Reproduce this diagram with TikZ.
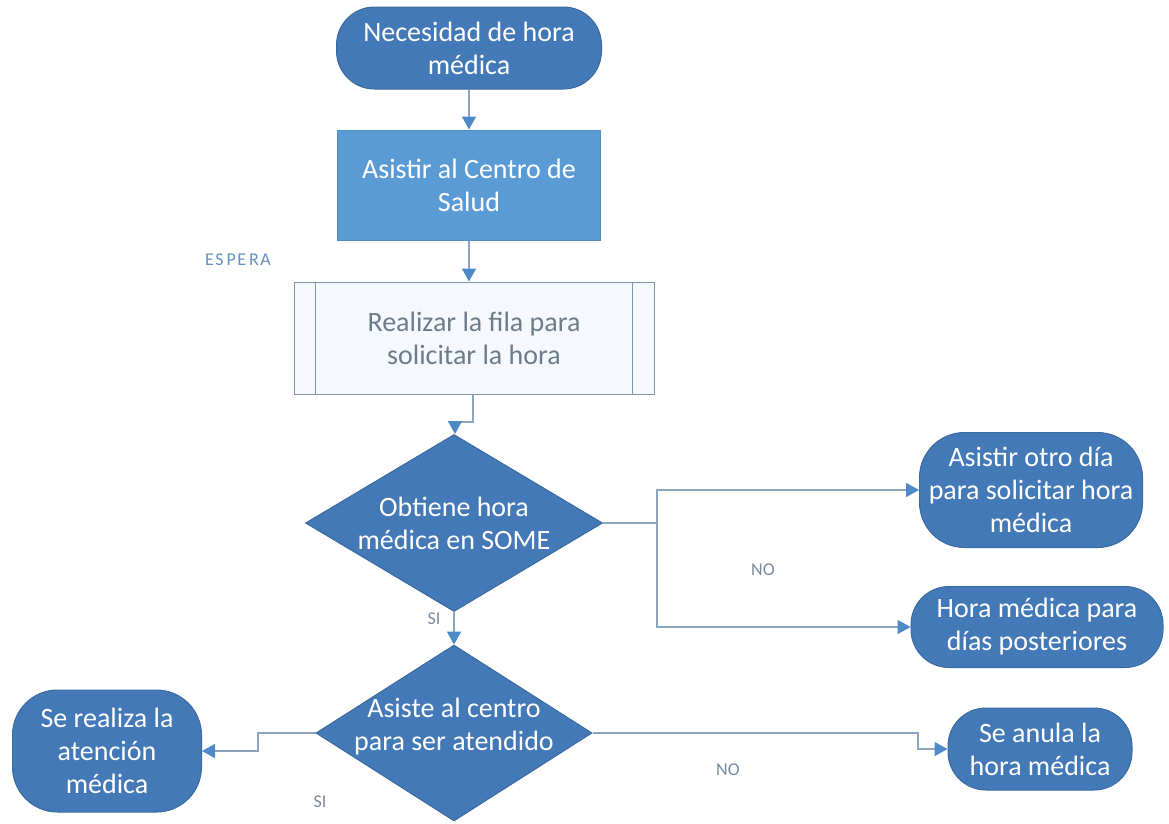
\documentclass[tikz,border=0pt]{standalone}
\usepackage{fontspec}
\setmainfont{Carlito}
\usetikzlibrary{shapes.geometric,arrows.meta}
\definecolor{termfill}{RGB}{68,121,184}
\definecolor{termdraw}{RGB}{58,106,160}
\definecolor{procfill}{RGB}{91,155,213}
\definecolor{procdraw}{RGB}{80,140,200}
\definecolor{predfill}{RGB}{245,249,253}
\definecolor{preddraw}{RGB}{128,150,170}
\definecolor{predtext}{RGB}{110,124,138}
\definecolor{linecol}{RGB}{140,165,190}
\definecolor{arrowcol}{RGB}{78,138,200}
\definecolor{labcol}{RGB}{120,138,158}
\definecolor{espcol}{RGB}{100,145,195}
\tikzset{
  txt/.style={font=\fontsize{28}{33}\selectfont, align=center},
  term/.style={txt, rectangle, rounded corners=#1, fill=termfill, draw=termdraw, line width=1pt, text=white, inner sep=0pt},
  term/.default=38pt,
  procbox/.style={txt, rectangle, fill=procfill, draw=procdraw, line width=1pt, text=white, inner sep=0pt},
  predbox/.style={txt, rectangle, fill=predfill, draw=preddraw, line width=1pt, text=predtext, inner sep=0pt},
  decbox/.style={diamond, fill=termfill, draw=termdraw, line width=1pt, inner sep=0pt},
  dectext/.style={txt, text=white},
  conn/.style={draw=linecol, line width=1.6pt, -{Triangle[width=14pt,length=13pt,fill=arrowcol,color=arrowcol]}},
  lab/.style={font=\fontsize{18}{20}\selectfont, text=labcol},
}
\begin{document}
\begin{tikzpicture}[x=1pt,y=-1pt]
\useasboundingbox (0,0) rectangle (1169,823);
% nodes
\node[term, minimum width=265pt, minimum height=82pt] (t1) at (469,48) {Necesidad de hora\\médica};
\node[procbox, minimum width=263pt, minimum height=110pt] (p1) at (469,185) {Asistir al Centro de\\Salud};
\node[predbox, minimum width=360pt, minimum height=112pt] (pp) at (474,338) {Realizar la fila para\\solicitar la hora};
\draw[preddraw, line width=1pt] ([xshift=22pt]pp.north west) -- ([xshift=22pt]pp.south west);
\draw[preddraw, line width=1pt] ([xshift=-22pt]pp.north east) -- ([xshift=-22pt]pp.south east);
\node[decbox, minimum width=297pt, minimum height=177pt, aspect=1.678] (d1) at (454,523) {};
\node[dectext] (d1t) at (d1.center) {Obtiene hora\\médica en SOME};
\node[decbox, minimum width=276pt, minimum height=176pt, aspect=1.568] (d2) at (454,733) {};
\node[dectext] (d2t) at ([yshift=6pt]d2.center) {Asiste al centro\\para ser atendido};
\node[term=45pt, minimum width=223pt, minimum height=115pt] (t2) at (1031,490) {Asistir otro día\\para solicitar hora\\médica};
\node[term, minimum width=252pt, minimum height=81pt] (t3) at (1037,627) {Hora médica para\\días posteriores};
\node[term=45pt, minimum width=189pt, minimum height=122pt] (t4) at (107,751) {Se realiza la\\atención\\médica};
\node[term, minimum width=184pt, minimum height=82pt] (t5) at (1040,749) {Se anula la\\hora médica};
% labels
\node[lab, text=espcol] (lesp) at (238,260) {E\hspace{1.5pt}S\hspace{3pt}P\hspace{1.5pt}E\hspace{3pt}R\hspace{1.5pt}A};
\node[lab] (lno1) at (763,570) {NO};
\node[lab] (lsi1) at (434,619) {SI};
\node[lab] (lsi2) at (320,802) {SI};
\node[lab] (lno2) at (728,770) {NO};
% connectors
\coordinate (c1) at (473,422);
\coordinate (c2) at (455,422);
\coordinate (c3) at (657,523);
\coordinate (c4) at (258,733);
\coordinate (c5) at (918,733);
\draw[conn] (t1.south) -- (p1.north);
\draw[conn] (p1.south) -- (p1.south |- pp.north);
\draw[conn] (pp.south -| c1) -- (c1) -- (c2) -- (c2 |- d1.north);
\draw[conn] (d1.south) -- (d2.north);
\draw[conn] (d1.east) -- (c3) -- (c3 |- t2.west) -- (t2.west);
\draw[conn] (c3) -- (c3 |- t3.west) -- (t3.west);
\draw[conn] (d2.west) -- (c4) -- (c4 |- t4.east) -- (t4.east);
\draw[conn] (d2.east) -- (c5) -- (c5 |- t5.west) -- (t5.west);
\end{tikzpicture}
\end{document}
